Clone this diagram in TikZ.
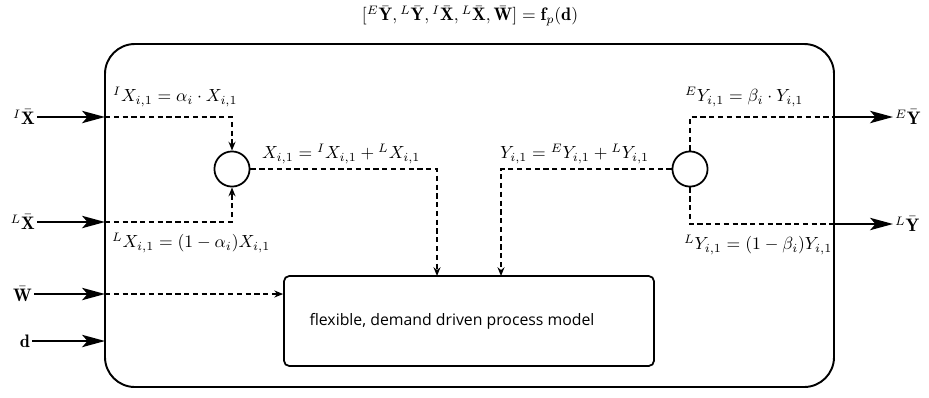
\documentclass[tikz,border=0pt]{standalone}
\usepackage{fontspec}
\usepackage{amsmath}
\newfontfamily\labelsans{Open Sans}
\usetikzlibrary{arrows.meta}
\begin{document}
\begin{tikzpicture}[x=0.02cm,y=-0.02cm,
  font=\fontsize{10.3}{12.5}\selectfont,
  frame/.style={draw,line width=1.1pt},
  dashline/.style={draw,line width=0.9pt,dash pattern=on 3pt off 2pt},
  dasharrow/.style={dashline,-{Stealth[length=5pt,width=4pt]}},
  bigarrow/.style={draw,line width=1.2pt,-{Stealth[length=13pt,width=7pt,inset=3pt]}},
  junction/.style={circle,draw,line width=1pt,minimum size=20pt,inner sep=0pt},
  lbl/.style={inner sep=1pt}]
\useasboundingbox (0,0) rectangle (929,397);
% title
\node[lbl] (title) at (470,16) {$[{}^{E}\bar{\mathbf{Y}},{}^{L}\bar{\mathbf{Y}},{}^{I}\bar{\mathbf{X}},{}^{L}\bar{\mathbf{X}},\bar{\mathbf{W}}]=\mathbf{f}_{p}(\mathbf{d})$};
% outer frame
\draw[frame,rounded corners=17pt] (105,44) rectangle (834,387);
\coordinate (outerW1) at (105,117);
\coordinate (outerW2) at (105,222);
\coordinate (outerW3) at (105,294);
\coordinate (outerW4) at (105,341);
\coordinate (outerE1) at (834,117);
\coordinate (outerE2) at (834,224);
% inner model box
\node[draw,line width=1pt,rounded corners=3pt,minimum width=370*0.02cm,minimum height=90*0.02cm,inner sep=0pt] (model) at (469,321) {};
\node[lbl,font=\labelsans\fontsize{9}{11}\selectfont] (modeltext) at (452,321) {flexible, demand driven process model};
% junctions
\node[junction] (cx) at (232,169) {};
\node[junction] (cy) at (690,169) {};
% input labels and arrows
\node[lbl,anchor=east] (iX) at (37,117) {${}^{I}\bar{\mathbf{X}}$};
\node[lbl,anchor=east] (lX) at (37,222) {${}^{L}\bar{\mathbf{X}}$};
\node[lbl,anchor=east] (W) at (34,294) {$\bar{\mathbf{W}}$};
\node[lbl,anchor=east] (d) at (32,341) {$\mathbf{d}$};
\draw[bigarrow] (iX) -- (outerW1);
\draw[bigarrow] (lX) -- (outerW2);
\draw[bigarrow] (W) -- (outerW3);
\draw[bigarrow] (d) -- (outerW4);
% output labels and arrows
\node[lbl,anchor=west] (eY) at (893,117) {${}^{E}\bar{\mathbf{Y}}$};
\node[lbl,anchor=west] (lY) at (893,224) {${}^{L}\bar{\mathbf{Y}}$};
\draw[bigarrow] (outerE1) -- (eY);
\draw[bigarrow] (outerE2) -- (lY);
% dashed internal flows
\draw[dasharrow] (outerW1) -| (cx.north);
\draw[dasharrow] (outerW2) -| (cx.south);
\draw[dasharrow] (cx.east) -| (437,276);
\draw[dasharrow] (cy.west) -| (501,276);
\draw[dashline] (cy.north) |- (outerE1);
\draw[dashline] (cy.south) |- (outerE2);
\draw[dasharrow] (outerW3) -- (model.west |- outerW3);
% labels
\node[lbl,anchor=south west] (l1) at (111,109) {${}^{I}X_{i,1}=\alpha_i\cdot X_{i,1}$};
\node[lbl,anchor=north west] (l2) at (110,231) {${}^{L}X_{i,1}=(1-\alpha_i)X_{i,1}$};
\node[lbl,anchor=south west] (l3) at (260,166) {$X_{i,1}={}^{I}X_{i,1}+{}^{L}X_{i,1}$};
\node[lbl,anchor=south west] (l4) at (498,166) {$Y_{i,1}={}^{E}Y_{i,1}+{}^{L}Y_{i,1}$};
\node[lbl,anchor=south west] (l5) at (683,109) {${}^{E}Y_{i,1}=\beta_i\cdot Y_{i,1}$};
\node[lbl,anchor=north west] (l6) at (682,233) {${}^{L}Y_{i,1}=(1-\beta_i)Y_{i,1}$};
\end{tikzpicture}
\end{document}
